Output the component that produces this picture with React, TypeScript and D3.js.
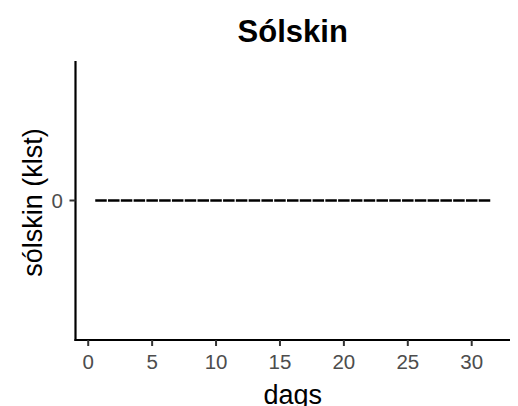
import React from "react";
import * as d3 from "d3";

const days: number[] = Array.from({ length: 31 }, (_, i) => i + 1);
const sunshine: number[] = [0,0,0,0,0,0,0,0,0,0,0,0,0,0,0,0,0,0,0,0,0,0,0,0,0,0,0,0,0,0,0];
const xTicks: number[] = [0, 5, 10, 15, 20, 25, 30];
const yTicks: number[] = [0];
const title = "Sólskin";
const xLabel = "dags";
const yLabel = "sólskin (klst)";

const W = 518;
const H = 406;
const panel = { left: 75.5, right: 510, top: 61, bottom: 340 };
const barWidth = 0.9;
const font = "'Liberation Sans', Arial, Helvetica, sans-serif";

export default function App() {
  const xMin = d3.min(days)! - barWidth / 2;
  const xMax = d3.max(days)! + barWidth / 2;
  const xPad = (xMax - xMin) * 0.05;
  const x = d3.scaleLinear().domain([xMin - xPad, xMax + xPad]).range([panel.left, panel.right]);
  const y = d3.scaleLinear().domain([-1, 1]).range([panel.bottom, panel.top]);

  const bars = days.map((d, i) => {
    const v = sunshine[i];
    const p = d3.path();
    const x0 = x(d - barWidth / 2);
    const x1 = x(d + barWidth / 2);
    const yTop = y(Math.max(0, v));
    const yBot = y(Math.min(0, v));
    p.moveTo(x0, yBot);
    p.lineTo(x0, yTop);
    p.lineTo(x1, yTop);
    p.lineTo(x1, yBot);
    p.closePath();
    return p.toString();
  });

  const cx = (panel.left + panel.right) / 2;
  const cy = (panel.top + panel.bottom) / 2;

  return (
    <svg width={W} height={H} style={{ position: "absolute", left: 0, top: 0, display: "block", background: "#fff" }}
      fontFamily={font}>
      <rect x={0} y={0} width={W} height={H} fill="#fff" />
      {bars.map((dPath, i) => (
        <path key={i} d={dPath} fill="#fff" stroke="#000" strokeWidth={2.3} strokeLinejoin="miter" />
      ))}
      <line x1={panel.left} x2={panel.left} y1={panel.top} y2={panel.bottom + 1} stroke="#000" strokeWidth={2.2} />
      <line x1={panel.left - 1} x2={panel.right} y1={panel.bottom} y2={panel.bottom} stroke="#000" strokeWidth={2.2} />
      {xTicks.map((t) => (
        <g key={"x" + t}>
          <line x1={x(t)} x2={x(t)} y1={panel.bottom} y2={panel.bottom + 6} stroke="#333" strokeWidth={2} />
          <text x={x(t)} y={369} textAnchor="middle" fontSize={20.5} fill="#4D4D4D">{t}</text>
        </g>
      ))}
      {yTicks.map((t) => (
        <g key={"y" + t}>
          <line x1={panel.left - 6} x2={panel.left} y1={y(t)} y2={y(t)} stroke="#333" strokeWidth={2} />
          <text x={63} y={y(t) + 7.3} textAnchor="end" fontSize={20.5} fill="#4D4D4D">{t}</text>
        </g>
      ))}
      <text x={cx} y={404} textAnchor="middle" fontSize={27} fill="#000">{xLabel}</text>
      <text transform={`translate(41.5,${cy + 2}) rotate(-90)`} textAnchor="middle" fontSize={27} fill="#000">{yLabel}</text>
      <text x={cx} y={41.5} textAnchor="middle" fontSize={31} fontWeight="bold" fill="#000">{title}</text>
    </svg>
  );
}
